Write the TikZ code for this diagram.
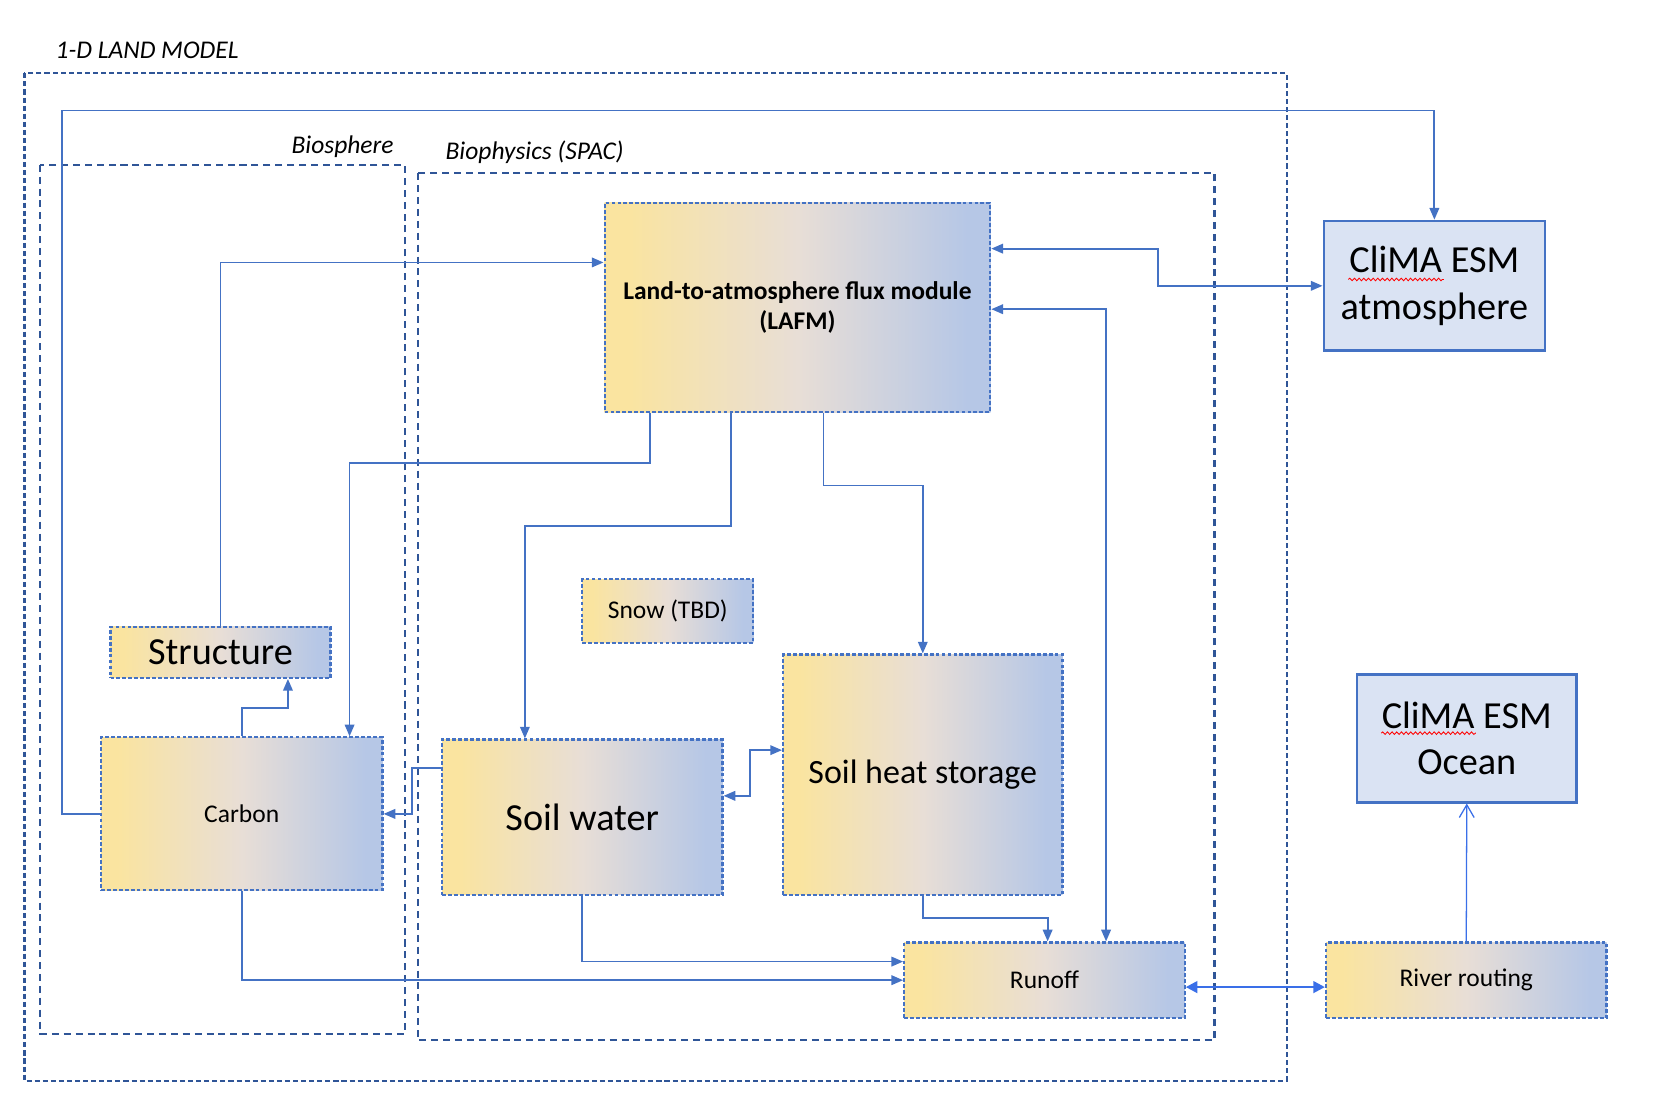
\documentclass[tikz,border=0pt]{standalone}
\usepackage{fontspec}
\setmainfont{Carlito}
\usetikzlibrary{arrows.meta,decorations.pathmorphing}
\definecolor{cblue}{HTML}{4472C4}
\definecolor{dblue}{HTML}{2F5597}
\definecolor{boxfill}{HTML}{DAE3F3}
\definecolor{bright}{HTML}{3A6FE8}
\definecolor{gy}{RGB}{250,228,160}
\definecolor{gm}{RGB}{232,222,214}
\definecolor{gb}{RGB}{182,199,230}
\pgfdeclarehorizontalshading{grad}{100bp}{color(0bp)=(gy); color(25bp)=(gy); color(28bp)=(gy); color(50bp)=(gm); color(72bp)=(gb); color(75bp)=(gb); color(100bp)=(gb)}
\tikzset{
  gbox/.style={draw=cblue, line width=1pt, dash pattern=on 1.8pt off 1pt, shade, shading=grad, inner sep=0pt, align=center, font=\fontsize{12}{14}\selectfont},
  ebox/.style={draw=cblue, line width=1.25pt, fill=boxfill, inner sep=0pt, align=center, font=\fontsize{18}{22}\selectfont},
  region/.style={draw=dblue, line width=1pt, dash pattern=on 3.3pt off 2.3pt},
  outerbox/.style={draw=dblue, line width=1pt, dash pattern=on 2.4pt off 1.4pt},
  conn/.style={draw=cblue, line width=0.85pt, -{Triangle[length=5.5pt,width=4.5pt]}},
  conntwo/.style={draw=cblue, line width=0.85pt, {Triangle[length=5.5pt,width=4.5pt]}-{Triangle[length=5.5pt,width=4.5pt]}},
  lab/.style={font=\itshape\fontsize{12}{14}\selectfont, anchor=base west, inner sep=0pt},
  spell/.style={draw=red, line width=0.4pt, decorate, decoration={snake, amplitude=0.6pt, segment length=2.2pt}},
}
\begin{document}
\begin{tikzpicture}[x=0.5pt, y=-0.5pt]
\useasboundingbox (0,0) rectangle (1568,1041);

% regions
\draw[outerbox] (23,69) rectangle (1211,1017);
\draw[region] (38,155) rectangle (381,973);
\draw[region] (393,163) rectangle (1143,979);
\node[lab] (tland) at (52,55) {1-D LAND MODEL};
\node[lab] (tbio) at (274,144) {Biosphere};
\node[lab] (tspac) at (419,150) {Biophysics (SPAC)};

% nodes
\node[gbox, minimum width=181.5pt, minimum height=98.5pt, font=\bfseries\fontsize{12}{14}\selectfont] (lafm) at (750.5,289.5) {Land-to-atmosphere flux module\\(LAFM)};
\node[ebox, minimum width=104pt, minimum height=61pt] (atm) at (1350,269) {CliMA ESM\\atmosphere};
\node[ebox, minimum width=103.5pt, minimum height=60pt] (ocean) at (1380.5,695) {CliMA ESM\\Ocean};
\node[gbox, minimum width=103.5pt, minimum height=24pt, font=\fontsize{18}{22}\selectfont] (struct) at (207.5,614) {Structure};
\node[gbox, minimum width=132.5pt, minimum height=72pt] (carbon) at (227.5,766) {Carbon};
\node[gbox, minimum width=80.5pt, minimum height=30pt] (snow) at (628.5,575) {Snow (TBD)};
\node[gbox, minimum width=132pt, minimum height=73pt, font=\fontsize{18}{22}\selectfont] (soilw) at (548,769) {Soil water};
\node[gbox, minimum width=131.5pt, minimum height=113pt, font=\fontsize{16}{19}\selectfont] (soilh) at (868.5,729) {Soil heat storage};
\node[gbox, minimum width=132pt, minimum height=35.5pt] (runoff) at (983,922.5) {Runoff};
\node[gbox, minimum width=132pt, minimum height=35.5pt] (river) at (1380,922.5) {River routing};

% spell-check underlines
\draw[spell] (1269,263) -- (1359,263);
\draw[spell] (1300,690) -- (1389,690);

% connectors
\draw[conn] (carbon.west) -| (58,104) -| (atm.north);
\draw[conn] (struct.north) |- (lafm.west |- 0,247);
\draw[conn] (lafm.south -| 612,0) |- (329,436) -- (carbon.north -| 329,0);
\draw[conn] (lafm.south -| 688,0) |- (494,495) -- (soilw.north -| 494,0);
\draw[conn] (lafm.south -| 775,0) |- (868.5,457) -- (soilh.north);
\draw[conntwo] (lafm.east |- 0,234) -| (1090,0 |- atm.west) -- (atm.west);
\draw[conntwo] (lafm.east |- 0,291) -| (runoff.north -| 1041,0);
\draw[conn] (carbon.north) |- (271,666) -- (struct.south -| 271,0);
\draw[conn] (soilw.west |- 0,723) -| (388,0 |- carbon.east) -- (carbon.east);
\draw[conntwo] (soilw.east |- 0,749) -| (706,706) -- (soilh.west |- 0,706);
\draw[conn] (soilw.south) |- (runoff.west |- 0,905);
\draw[conn] (carbon.south) |- (runoff.west);
\draw[conn] (soilh.south) |- (986,864) -- (runoff.north -| 986,0);
\draw[draw=bright, line width=1.15pt, {Triangle[length=5.5pt,width=5.5pt]}-{Triangle[length=5.5pt,width=5.5pt]}] (runoff.east |- 0,929) -- (river.west |- 0,929);
\draw[draw=bright, line width=0.6pt, -{Straight Barb[length=6pt,width=7pt]}] (river.north) -- (ocean.south);
\end{tikzpicture}
\end{document}
